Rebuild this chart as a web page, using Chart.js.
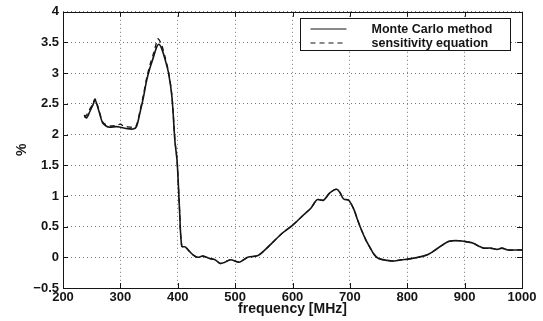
<!DOCTYPE html>
<html>
<head>
<meta charset="utf-8">
<script src="https://cdn.jsdelivr.net/npm/chart.js@4.4.1/dist/chart.umd.min.js"></script>
<style>
  html, body { margin: 0; padding: 0; background: #fff; }
  #wrap { width: 543px; height: 321px; position: relative; }
</style>
</head>
<body>
<div id="wrap"><canvas id="c" width="543" height="321"></canvas></div>
<script>
// ---- data ----
const seriesNames = ['Monte Carlo method', 'sensitivity equation'];

const mcFreq = [237, 241, 247, 252, 256, 262, 269, 275, 281, 293, 300, 310, 322, 328, 334, 340, 346, 352, 358, 363, 367, 372, 378, 384, 390, 395, 399, 403, 407, 413, 420, 428, 435, 444, 456, 465, 474, 482, 492, 507, 515, 522, 540, 552, 565, 583, 601, 619, 632, 643, 654, 665, 677, 683, 689, 698, 707, 713, 720, 728, 735, 742, 750, 765, 777, 790, 801, 819, 837, 855, 873, 891, 905, 915, 925, 933, 945, 957, 965, 975, 990, 1000];
const mcValues = [2.32, 2.27, 2.38, 2.48, 2.56, 2.40, 2.19, 2.14, 2.12, 2.13, 2.12, 2.10, 2.09, 2.13, 2.35, 2.60, 2.89, 3.10, 3.27, 3.42, 3.47, 3.40, 3.22, 3.00, 2.60, 1.90, 1.55, 0.80, 0.18, 0.17, 0.10, 0.03, 0.00, 0.02, -0.02, -0.04, -0.10, -0.08, -0.04, -0.08, -0.04, 0.00, 0.03, 0.12, 0.24, 0.40, 0.53, 0.69, 0.80, 0.94, 0.93, 1.05, 1.11, 1.05, 0.95, 0.93, 0.78, 0.62, 0.45, 0.28, 0.16, 0.05, -0.02, -0.05, -0.06, -0.04, -0.03, 0.00, 0.05, 0.16, 0.26, 0.27, 0.25, 0.23, 0.18, 0.15, 0.15, 0.13, 0.15, 0.12, 0.12, 0.12];

const seFreq = [237, 242, 247, 252, 256, 262, 269, 275, 281, 293, 300, 305, 310, 322, 328, 334, 340, 346, 352, 358, 363, 366, 372, 378, 384, 390, 395, 399, 403, 407, 413, 420, 428, 435, 444, 456, 465, 474, 482, 492, 507, 515, 522, 540, 552, 565, 583, 601, 619, 632, 643, 654, 665, 677, 683, 689, 698, 707, 713, 720, 728, 735, 742, 750, 765, 777, 790, 801, 819, 837, 855, 873, 891, 905, 915, 925, 933, 945, 957, 965, 975, 990, 1000];
const seValues = [2.28, 2.33, 2.42, 2.50, 2.58, 2.42, 2.21, 2.16, 2.14, 2.15, 2.17, 2.14, 2.13, 2.12, 2.15, 2.38, 2.64, 2.93, 3.15, 3.33, 3.50, 3.56, 3.46, 3.26, 3.02, 2.62, 1.92, 1.56, 0.80, 0.18, 0.17, 0.10, 0.03, 0.00, 0.02, -0.02, -0.04, -0.10, -0.08, -0.04, -0.08, -0.04, 0.00, 0.03, 0.12, 0.24, 0.40, 0.53, 0.69, 0.80, 0.94, 0.93, 1.05, 1.11, 1.05, 0.95, 0.93, 0.78, 0.62, 0.45, 0.28, 0.16, 0.05, -0.02, -0.05, -0.06, -0.04, -0.03, 0.00, 0.05, 0.16, 0.26, 0.27, 0.25, 0.23, 0.18, 0.15, 0.15, 0.13, 0.15, 0.12, 0.12, 0.12];

const xTicks = [200, 300, 400, 500, 600, 700, 800, 900, 1000];
const yTicks = [-0.5, 0, 0.5, 1, 1.5, 2, 2.5, 3, 3.5, 4];
const xTitle = 'frequency [MHz]';
const yTitle = '%';

// ---- styling ----
const INK = '#151515';
const FONT = "'Liberation Sans', Arial, Helvetica, sans-serif";

const toPts = (xs, ys) => xs.map((x, i) => ({ x: x, y: ys[i] }));

// box, inward ticks and legend drawn through the chart's own scales
const framePlugin = {
  id: 'frame',
  afterDatasetsDraw(chart) {
    const ctx = chart.ctx;
    const a = chart.chartArea;
    const xs = chart.scales.x, ys = chart.scales.y;
    ctx.save();
    ctx.strokeStyle = INK;
    ctx.lineWidth = 1;
    ctx.strokeRect(Math.round(a.left) + 0.5, Math.round(a.top) + 0.5,
                   Math.round(a.right - a.left), Math.round(a.bottom - a.top));
    const L = 5;
    ctx.beginPath();
    xs.ticks.forEach(t => {
      const px = Math.round(xs.getPixelForValue(t.value)) + 0.5;
      ctx.moveTo(px, a.bottom); ctx.lineTo(px, a.bottom - L);
      ctx.moveTo(px, a.top); ctx.lineTo(px, a.top + L);
    });
    ys.ticks.forEach(t => {
      const py = Math.round(ys.getPixelForValue(t.value)) + 0.5;
      ctx.moveTo(a.left, py); ctx.lineTo(a.left + L, py);
      ctx.moveTo(a.right, py); ctx.lineTo(a.right - L, py);
    });
    ctx.stroke();

    // legend box
    const bw = 210, bh = 32;
    const bx = Math.round(a.right - 12 - bw) + 0.5;
    const by = Math.round(a.top + 6) + 0.5;
    ctx.fillStyle = '#fff';
    ctx.fillRect(bx, by, bw, bh);
    ctx.strokeRect(bx, by, bw, bh);
    ctx.font = "bold 12.5px " + FONT;
    ctx.textBaseline = 'middle';
    ctx.textAlign = 'left';
    chart.data.datasets.forEach((ds, i) => {
      const ly = by + 10.5 + i * 14;
      ctx.beginPath();
      ctx.setLineDash(ds.borderDash || []);
      ctx.lineWidth = 1.2;
      ctx.strokeStyle = INK;
      ctx.moveTo(bx + 10, ly); ctx.lineTo(bx + 46, ly);
      ctx.stroke();
      ctx.setLineDash([]);
      ctx.fillStyle = INK;
      ctx.fillText(ds.label, bx + 71, ly + 0.5);
    });
    ctx.restore();
  }
};

new Chart(document.getElementById('c'), {
  type: 'line',
  data: {
    datasets: [
      {
        label: seriesNames[0],
        data: toPts(mcFreq, mcValues),
        borderColor: INK,
        borderWidth: 1.6,
        pointRadius: 0,
        tension: 0.3,
        fill: false
      },
      {
        label: seriesNames[1],
        data: toPts(seFreq, seValues),
        borderColor: INK,
        borderWidth: 1.3,
        borderDash: [5, 4],
        pointRadius: 0,
        tension: 0.3,
        fill: false
      }
    ]
  },
  options: {
    responsive: false,
    animation: false,
    devicePixelRatio: 1,
    layout: { padding: { left: 0, top: 11, right: 21, bottom: 0 } },
    plugins: { legend: { display: false }, tooltip: { enabled: false } },
    scales: {
      x: {
        type: 'linear',
        min: xTicks[0],
        max: xTicks[xTicks.length - 1],
        afterBuildTicks: s => { s.ticks = xTicks.map(v => ({ value: v })); },
        afterFit: s => { s.height = 33; },
        grid: { color: '#777', lineWidth: 1, drawTicks: false },
        border: { display: false, dash: [1, 3] },
        ticks: {
          color: INK, padding: 2,
          font: { family: FONT, size: 13, weight: 'bold' },
          maxRotation: 0,
          callback: v => String(v)
        },
        title: {
          display: true, text: xTitle, color: INK,
          font: { family: FONT, size: 14, weight: 'bold' },
          padding: { top: 0, bottom: 3 }
        }
      },
      y: {
        type: 'linear',
        min: yTicks[0],
        max: yTicks[yTicks.length - 1],
        afterBuildTicks: s => { s.ticks = yTicks.map(v => ({ value: v })); },
        afterFit: s => { s.width = 63; },
        grid: { color: '#777', lineWidth: 1, drawTicks: false },
        border: { display: false, dash: [1, 3] },
        ticks: {
          color: INK, padding: 4,
          font: { family: FONT, size: 13, weight: 'bold' },
          callback: v => (v < 0 ? '\u2212' + Math.abs(v) : String(v))
        },
        title: {
          display: true, text: yTitle, color: INK,
          font: { family: FONT, size: 14, weight: 'bold' },
          padding: { top: 14, bottom: 0 }
        }
      }
    }
  },
  plugins: [framePlugin]
});
</script>
</body>
</html>
